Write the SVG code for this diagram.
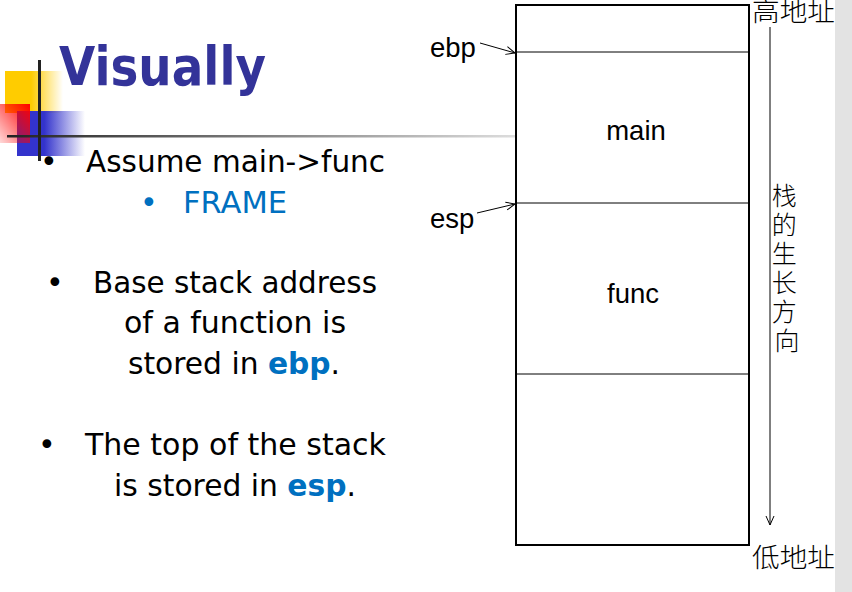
<svg xmlns="http://www.w3.org/2000/svg" width="852" height="592" viewBox="0 0 852 592">
<style>
.body{font-family:"DejaVu Sans",Verdana,sans-serif;font-size:30px;fill:#000}
.blue{fill:#0070C0}
.b{font-weight:bold;fill:#0070C0}
.lbl{font-family:"Liberation Sans",Arial,sans-serif;font-size:27.5px;fill:#000}
.cjk{font-family:"Noto Sans CJK SC",sans-serif;font-size:26px;fill:#000;font-weight:300}
.vcjk{font-family:"Noto Sans CJK SC",sans-serif;font-size:25px;fill:#000;font-weight:300}
.thin{stroke:#000;stroke-width:1;fill:none}
</style>
<defs>
<linearGradient id="gy" x1="0" x2="1" y1="0" y2="0"><stop offset="0.45" stop-color="#FFCC00"/><stop offset="1" stop-color="#FFCC00" stop-opacity="0"/></linearGradient>
<linearGradient id="gb" x1="0" x2="1" y1="0" y2="0"><stop offset="0.4" stop-color="#3333CC"/><stop offset="1" stop-color="#3333CC" stop-opacity="0"/></linearGradient>
<linearGradient id="gr" x1="1" x2="0" y1="0" y2="1"><stop offset="0" stop-color="#FF0000"/><stop offset="1" stop-color="#FF0000" stop-opacity="0.15"/></linearGradient>
<linearGradient id="gl" x1="0" x2="1" y1="0" y2="0"><stop offset="0" stop-color="#222"/><stop offset="1" stop-color="#ddd"/></linearGradient>
<marker id="ah" markerWidth="10" markerHeight="10" refX="9" refY="5" orient="auto" markerUnits="userSpaceOnUse"><path d="M0,1 L9,5 L0,9" fill="none" stroke="#000" stroke-width="1"/></marker>
</defs>
<rect x="835" y="0" width="17" height="592" fill="#e3e3e3"/>
<g id="decor">
<rect x="5" y="71" width="58" height="42" fill="url(#gy)"/>
<rect x="17" y="111" width="68" height="45" fill="url(#gb)"/>
<rect x="0" y="104" width="30" height="39" fill="url(#gr)"/>
<rect x="7" y="135" width="508" height="2.5" fill="url(#gl)"/>
<rect x="38" y="60" width="3" height="101" fill="#222"/>
</g>
<g id="title"><text x="59" y="85" font-family="DejaVu Sans,Verdana,sans-serif" font-weight="bold" font-size="54" fill="#333399" textLength="207" lengthAdjust="spacingAndGlyphs">Visually</text></g>
<g id="bullets">
<text x="40" y="172" class="body">•</text>
<text x="86" y="172" class="body" textLength="299" lengthAdjust="spacingAndGlyphs">Assume main-&gt;func</text>
<text x="140" y="213" class="body blue" font-size="26">•</text>
<text x="183" y="213" class="body blue" textLength="104" lengthAdjust="spacingAndGlyphs">FRAME</text>
<text x="46" y="293" class="body">•</text>
<text x="93" y="293" class="body" textLength="284" lengthAdjust="spacingAndGlyphs">Base stack address</text>
<text x="124" y="333" class="body" textLength="222" lengthAdjust="spacingAndGlyphs">of a function is</text>
<text x="128" y="374" class="body" textLength="212" lengthAdjust="spacingAndGlyphs">stored in <tspan class="b">ebp</tspan>.</text>
<text x="38" y="455" class="body">•</text>
<text x="85" y="455" class="body" textLength="301" lengthAdjust="spacingAndGlyphs">The top of the stack</text>
<text x="114" y="496" class="body" textLength="242" lengthAdjust="spacingAndGlyphs">is stored in <tspan class="b">esp</tspan>.</text>
</g>
<g id="stack">
<rect x="516" y="5" width="233" height="540" fill="#fff" stroke="#000" stroke-width="2"/>
<line x1="516" y1="52" x2="749" y2="52" class="thin"/>
<line x1="516" y1="203" x2="749" y2="203" class="thin"/>
<line x1="516" y1="374" x2="749" y2="374" class="thin"/>
</g>
<g id="main"><text x="636" y="140" class="lbl" text-anchor="middle">main</text></g>
<g id="func"><text x="633" y="303" class="lbl" text-anchor="middle">func</text></g>
<g id="ebp"><text x="430" y="57" class="lbl">ebp</text></g>
<g id="esp"><text x="430" y="228" class="lbl">esp</text></g>
<g id="connectors">
<line x1="480" y1="43" x2="515" y2="53" class="thin" marker-end="url(#ah)"/>
<line x1="477" y1="213" x2="515" y2="204" class="thin" marker-end="url(#ah)"/>
<line x1="770" y1="27" x2="770" y2="525" class="thin" marker-end="url(#ah)"/>
</g>
<g id="labels">
<text x="752" y="21" class="cjk" textLength="83" lengthAdjust="spacingAndGlyphs">高地址</text>
<text x="752" y="567" class="cjk" textLength="83" lengthAdjust="spacingAndGlyphs">低地址</text>
<text class="vcjk" text-anchor="middle">
<tspan x="787" y="205">栈</tspan>
<tspan x="787" y="234">的</tspan>
<tspan x="787" y="263">生</tspan>
<tspan x="787" y="292">长</tspan>
<tspan x="787" y="321">方</tspan>
<tspan x="787" y="350">向</tspan>
</text>
</g>
</svg>
